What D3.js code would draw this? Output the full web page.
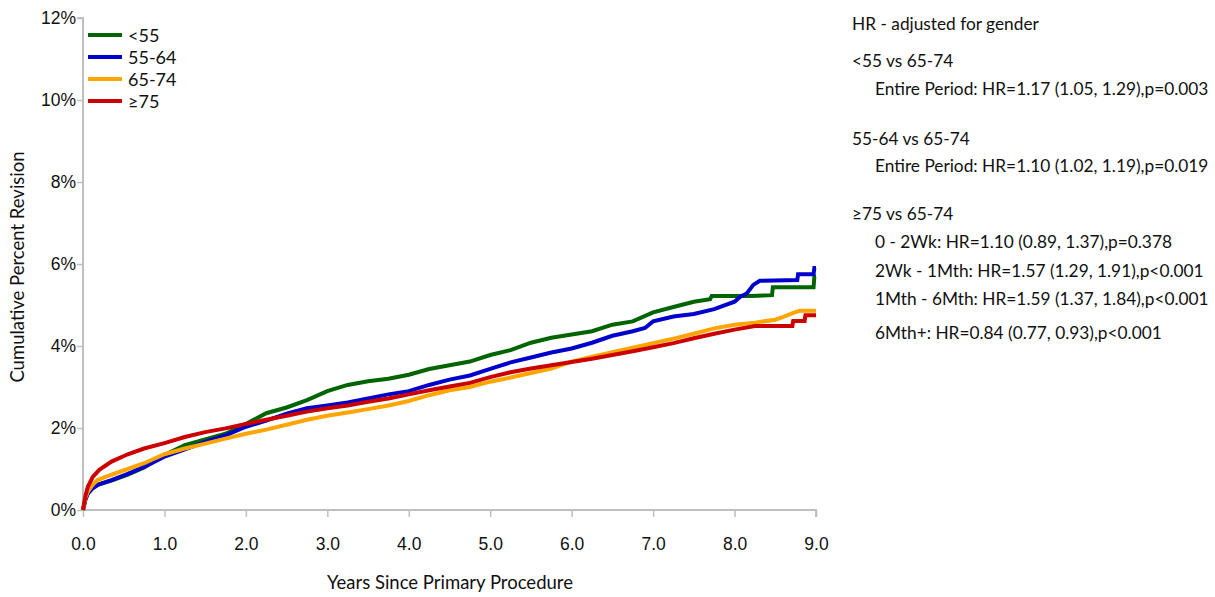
<!DOCTYPE html>
<html>
<head>
<meta charset="utf-8">
<script src="https://cdn.jsdelivr.net/npm/d3@7"></script>
<style>
  html, body { margin: 0; padding: 0; background: #fff; }
  svg { display: block; font-family: Lato, "Open Sans", sans-serif; }
</style>
</head>
<body>
<svg id="chart" width="1215" height="597"></svg>
<script>
// Cumulative percent revision by age group, [years, percent]
const under55 = [[0,0],[0.03,0.28],[0.06,0.42],[0.12,0.55],[0.18,0.62],[0.35,0.72],[0.55,0.86],[0.75,1.04],[1.0,1.34],[1.25,1.58],[1.5,1.72],[1.75,1.86],[2.0,2.1],[2.25,2.36],[2.5,2.5],[2.75,2.68],[3.0,2.9],[3.25,3.05],[3.5,3.14],[3.75,3.2],[4.0,3.3],[4.25,3.44],[4.5,3.53],[4.75,3.62],[5.0,3.78],[5.25,3.9],[5.5,4.08],[5.75,4.2],[6.0,4.28],[6.25,4.36],[6.5,4.52],[6.75,4.6],[7.0,4.82],[7.25,4.95],[7.5,5.08],[7.7,5.14],[7.72,5.22],[8.2,5.22],[8.46,5.24],[8.47,5.43],[8.97,5.43],[8.98,5.69],[9.0,5.69]];
const age55to64 = [[0,0],[0.03,0.25],[0.06,0.4],[0.12,0.53],[0.18,0.61],[0.35,0.73],[0.55,0.88],[0.75,1.05],[1.0,1.3],[1.25,1.48],[1.5,1.66],[1.75,1.82],[2.0,2.03],[2.25,2.18],[2.5,2.35],[2.75,2.48],[3.0,2.55],[3.25,2.62],[3.5,2.72],[3.75,2.82],[4.0,2.9],[4.25,3.05],[4.5,3.18],[4.75,3.28],[5.0,3.44],[5.25,3.6],[5.5,3.72],[5.75,3.84],[6.0,3.94],[6.25,4.08],[6.5,4.25],[6.75,4.36],[6.9,4.44],[7.0,4.6],[7.25,4.72],[7.5,4.78],[7.75,4.9],[8.0,5.08],[8.07,5.2],[8.15,5.28],[8.23,5.49],[8.31,5.59],[8.77,5.61],[8.78,5.75],[8.97,5.75],[8.98,5.9],[9.0,5.9]];
const age65to74 = [[0,0],[0.03,0.3],[0.06,0.45],[0.12,0.62],[0.18,0.73],[0.35,0.86],[0.55,1.0],[0.75,1.14],[1.0,1.36],[1.25,1.5],[1.5,1.62],[1.75,1.74],[2.0,1.86],[2.25,1.96],[2.5,2.08],[2.75,2.2],[3.0,2.3],[3.25,2.38],[3.5,2.46],[3.75,2.55],[4.0,2.66],[4.25,2.8],[4.5,2.92],[4.75,3.0],[5.0,3.13],[5.25,3.23],[5.5,3.34],[5.75,3.45],[6.0,3.62],[6.25,3.74],[6.5,3.85],[6.75,3.96],[7.0,4.07],[7.25,4.18],[7.5,4.3],[7.75,4.43],[8.0,4.52],[8.25,4.57],[8.5,4.64],[8.6,4.71],[8.72,4.81],[8.8,4.86],[9.0,4.86]];
const age75plus = [[0,0],[0.03,0.35],[0.06,0.57],[0.12,0.81],[0.2,0.98],[0.35,1.18],[0.55,1.36],[0.75,1.5],[1.0,1.63],[1.25,1.78],[1.5,1.9],[1.75,1.99],[2.0,2.1],[2.25,2.2],[2.5,2.3],[2.75,2.4],[3.0,2.48],[3.25,2.55],[3.5,2.64],[3.75,2.72],[4.0,2.82],[4.25,2.92],[4.5,3.01],[4.75,3.1],[5.0,3.24],[5.25,3.36],[5.5,3.45],[5.75,3.53],[6.0,3.61],[6.25,3.69],[6.5,3.78],[6.75,3.87],[7.0,3.97],[7.25,4.07],[7.5,4.19],[7.75,4.3],[8.0,4.4],[8.25,4.49],[8.71,4.49],[8.72,4.61],[8.86,4.61],[8.87,4.75],[9.0,4.75]];

const seriesNames = ["<55", "55-64", "65-74", "≥75"];
const seriesColors = ["#006400", "#0000CC", "#FFA500", "#CC0000"];
const seriesData = [under55, age55to64, age65to74, age75plus];

const xTicks = [0,1,2,3,4,5,6,7,8,9];
const yTicks = [0,2,4,6,8,10,12];

const hrLines = [
  { text: "HR - adjusted for gender", indent: 0, y: 24 },
  { text: "<55 vs 65-74", indent: 0, y: 61 },
  { text: "Entire Period: HR=1.17 (1.05, 1.29),p=0.003", indent: 1, y: 89 },
  { text: "55-64 vs 65-74", indent: 0, y: 139 },
  { text: "Entire Period: HR=1.10 (1.02, 1.19),p=0.019", indent: 1, y: 166 },
  { text: "≥75 vs 65-74", indent: 0, y: 214 },
  { text: "0 - 2Wk: HR=1.10 (0.89, 1.37),p=0.378", indent: 1, y: 242 },
  { text: "2Wk - 1Mth: HR=1.57 (1.29, 1.91),p<0.001", indent: 1, y: 271 },
  { text: "1Mth - 6Mth: HR=1.59 (1.37, 1.84),p<0.001", indent: 1, y: 299 },
  { text: "6Mth+: HR=0.84 (0.77, 0.93),p<0.001", indent: 1, y: 333 }
];

const svg = d3.select("#chart");
const plotLeft = 83, plotRight = 816, plotTop = 18, plotBottom = 510;
const axisColor = "#bfbfbf";
const textColor = "#111";

const x = d3.scaleLinear().domain([0, 9]).range([plotLeft, plotRight]);
const y = d3.scaleLinear().domain([0, 12]).range([plotBottom, plotTop]);

// Y axis
const yAxis = svg.append("g")
  .attr("transform", `translate(${plotLeft},0)`)
  .call(d3.axisLeft(y).tickValues(yTicks).tickFormat(d => d + "%").tickSize(6).tickPadding(1));
yAxis.select(".domain").attr("stroke", axisColor).attr("stroke-width", 2).attr("d", `M-6,${plotTop}H0V${plotBottom}`);
yAxis.selectAll(".tick line").attr("stroke", axisColor).attr("stroke-width", 1.5);
yAxis.selectAll(".tick text").attr("fill", textColor).style("font-size", "17.5px");

// X axis
const xAxis = svg.append("g")
  .attr("transform", `translate(0,${plotBottom})`)
  .call(d3.axisBottom(x).tickValues(xTicks).tickFormat(d3.format(".1f")).tickSize(7).tickPadding(21));
xAxis.select(".domain").attr("stroke", axisColor).attr("stroke-width", 2).attr("d", `M${plotLeft},0H${plotRight}V7`);
xAxis.selectAll(".tick line").attr("stroke", axisColor).attr("stroke-width", 1.5);
xAxis.selectAll(".tick text").attr("fill", textColor).style("font-size", "17.5px");

// Axis titles
svg.append("text")
  .attr("x", 450).attr("y", 589)
  .attr("text-anchor", "middle")
  .attr("fill", textColor)
  .style("font-size", "18.5px")
  .text("Years Since Primary Procedure");

svg.append("text")
  .attr("transform", "translate(24,267) rotate(-90)")
  .attr("text-anchor", "middle")
  .attr("fill", textColor)
  .style("font-size", "18.5px")
  .text("Cumulative Percent Revision");

// Curves
const line = d3.line().x(d => x(d[0])).y(d => y(d[1]));
svg.append("g").selectAll("path")
  .data(seriesData)
  .join("path")
  .attr("d", line)
  .attr("fill", "none")
  .attr("stroke", (d, i) => seriesColors[i])
  .attr("stroke-width", 4)
  .attr("stroke-linejoin", "miter");

// Legend
const legend = svg.append("g");
seriesNames.forEach((name, i) => {
  const ly = 35 + i * 22;
  legend.append("line")
    .attr("x1", 88).attr("x2", 122).attr("y1", ly).attr("y2", ly)
    .attr("stroke", seriesColors[i]).attr("stroke-width", 4);
  legend.append("text")
    .attr("x", 128).attr("y", ly + 7)
    .attr("fill", textColor)
    .style("font-size", "18px")
    .text(name);
});

// Hazard ratio annotations
svg.append("g").selectAll("text")
  .data(hrLines)
  .join("text")
  .attr("x", d => d.indent ? 875 : 852)
  .attr("y", d => d.y + 6)
  .attr("fill", textColor)
  .style("font-size", "17.3px")
  .text(d => d.text);
</script>
</body>
</html>
